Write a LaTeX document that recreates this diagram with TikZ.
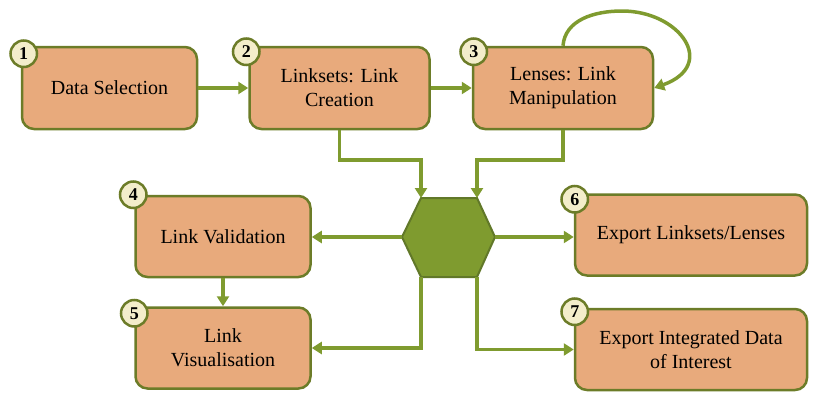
\documentclass[tikz,border=0pt]{standalone}
\usepackage{fontspec}
\setmainfont{Liberation Serif}
\usepackage{tikz}
\usetikzlibrary{arrows.meta,positioning,calc}
\definecolor{boxfill}{HTML}{E8AA7C}
\definecolor{boxline}{HTML}{6C7C28}
\definecolor{flowgreen}{HTML}{7F9B2F}
\definecolor{hexline}{HTML}{617829}
\definecolor{numfill}{HTML}{F3EDCB}

\begin{document}
\begin{tikzpicture}[x=1pt, y=-1pt,
  stepbox/.style={rectangle, draw=boxline, line width=2.5pt, fill=boxfill, minimum width=175pt, minimum height=81pt, align=center, rounded corners=12pt, font=\fontsize{20}{24}\selectfont},
  topbox/.style={stepbox, minimum width=180pt, minimum height=82pt},
  widebox/.style={stepbox, minimum width=232pt, minimum height=81pt},
  numdot/.style={circle, draw=boxline, line width=2.5pt, fill=numfill, minimum size=26.5pt, inner sep=0pt, font=\fontsize{18}{18}\selectfont\bfseries},
  flow/.style={-{Triangle[length=10pt, width=12pt]}, line width=3.5pt, flowgreen},
  hexbody/.style={draw=hexline, line width=2pt, fill=flowgreen}]
\useasboundingbox (0,0) rectangle (823,407);
\node[stepbox, minimum height=82pt] (select) at (109.5,88) {Data Selection};
\node[topbox, right=50pt of select] (linkset) {Linksets: Link\\Creation};
\node[topbox, right=41pt of linkset] (lens) {Lenses: Link\\Manipulation};
\node[stepbox] (valid) at (223,236.5) {Link Validation};
\node[stepbox, below=28pt of valid] (visual) {Link\\Visualisation};
\node[widebox] (export) at (691,235) {Export Linksets/Lenses};
\node[widebox, below=31pt of export] (integrate) {Export Integrated Data\\of Interest};
\node[numdot] (n1) at ([xshift=3pt, yshift=-8pt]select.north west) {1};
\node[numdot] (n2) at ([xshift=-2pt, yshift=-6pt]linkset.north west) {2};
\node[numdot] (n3) at ([xshift=2pt, yshift=-6pt]lens.north west) {3};
\node[numdot] (n4) at ([xshift=-1pt, yshift=0pt]valid.north west) {4};
\node[numdot] (n5) at ([xshift=0pt, yshift=-7pt]visual.north west) {5};
\node[numdot] (n6) at ([xshift=1pt, yshift=-6pt]export.north west) {6};
\node[numdot] (n7) at ([xshift=1pt, yshift=-4pt]integrate.north west) {7};
\coordinate (hex-l) at (402,237);
\coordinate (hex-tl) at (421,198);
\coordinate (hex-tr) at (477,198);
\coordinate (hex-r) at (495,237);
\coordinate (hex-br) at (477,277);
\coordinate (hex-bl) at (421,277);
\draw[hexbody] (hex-l) -- (hex-tl) -- (hex-tr) -- (hex-r) -- (hex-br) -- (hex-bl) -- cycle;
\coordinate (loop-top) at (622,11);
\draw[flow] (select) -- (linkset);
\draw[flow] (linkset) -- (lens);
\draw[flow] (lens.north) .. controls (565,20) and (594,11) .. (loop-top) .. controls (680,11) and (718,65) .. (lens.east);
\draw[flow] (linkset.south) |- ([yshift=38pt]hex-tl) -- (hex-tl);
\draw[flow] (lens.south) |- ([yshift=38pt]hex-tr) -- (hex-tr);
\draw[flow] (hex-l) -- (hex-l -| valid.east);
\draw[flow] (hex-r) -- (hex-r -| export.west);
\draw[flow] (valid) -- (visual);
\draw[flow] (hex-bl) |- (visual.east);
\draw[flow] (hex-br) |- (integrate.west);
\end{tikzpicture}
\end{document}
